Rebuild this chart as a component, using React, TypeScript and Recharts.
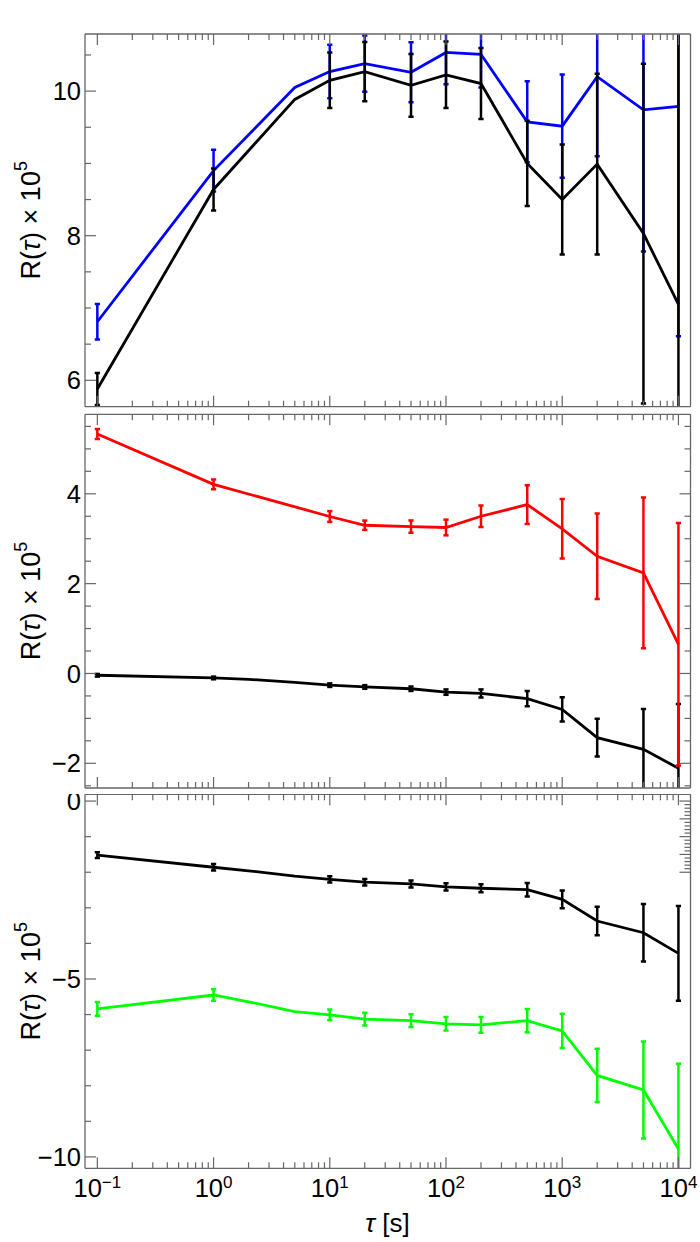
import React from "react";
import { LineChart, Line, XAxis, YAxis, ErrorBar } from "recharts";

// lag times (s) shared by all series
const TAU = [0.1, 1, 2, 5, 10, 20, 50, 100, 200, 500, 1000, 2000, 5000, 10000];

// top panel
const BLUE_TOP = [6.81, 8.9, null, 10.05, 10.27, 10.38, 10.26, 10.535, 10.51, 9.575, 9.515, 10.2, 9.74, 9.79];
const BLUE_TOP_ERR = [0.245, 0.29, null, null, 0.37, 0.39, 0.415, 0.44, 0.46, 0.56, 0.715, 1.1, 1.96, 3.18];
const BLACK_TOP = [5.88, 8.64, null, 9.885, 10.15, 10.27, 10.08, 10.225, 10.105, 9.0, 8.5, 8.99, 8.03, 7.05];
const BLACK_TOP_ERR = [0.22, 0.29, null, null, 0.385, 0.41, 0.435, 0.46, 0.49, 0.59, 0.76, 1.25, 2.35, 4.0];

// middle panel
const RED_MID = [5.33, 4.21, null, null, 3.495, 3.3, 3.27, 3.25, 3.5, 3.76, 3.22, 2.61, 2.24, 0.65];
const RED_MID_ERR = [0.11, 0.11, null, null, 0.12, 0.104, 0.137, 0.175, 0.24, 0.433, 0.663, 0.95, 1.68, 2.7];
const BLACK_MID = [-0.04, -0.1, -0.13, -0.2, -0.26, -0.3, -0.34, -0.415, -0.445, -0.56, -0.8, -1.43, -1.69, -2.11];
const BLACK_MID_ERR = [0.03, 0.03, null, null, 0.04, 0.04, 0.05, 0.06, 0.09, 0.17, 0.27, 0.42, 0.9, 1.43];

// bottom panel
const BLACK_BOT = [-1.52, -1.86, -1.96, -2.11, -2.2, -2.28, -2.33, -2.41, -2.45, -2.49, -2.76, -3.37, -3.7, -4.28];
const BLACK_BOT_ERR = [0.08, 0.09, null, null, 0.09, 0.09, 0.1, 0.1, 0.11, 0.19, 0.25, 0.4, 0.81, 1.33];
const GREEN_BOT = [-5.84, -5.45, -5.64, -5.92, -6.01, -6.13, -6.17, -6.26, -6.29, -6.17, -6.46, -7.71, -8.12, -9.78];
const GREEN_BOT_ERR = [0.19, 0.16, null, null, 0.15, 0.18, 0.18, 0.19, 0.22, 0.33, 0.48, 0.75, 1.36, 2.4];

// ticks
const X_MAJOR = [0.1, 1, 10, 100, 1000, 10000];
const X_EXP = ["\u22121", "0", "1", "2", "3", "4"];
const X_MINOR_MULT = [2, 3, 4, 5, 6, 7, 8, 9];
const X_DOMAIN: [number, number] = [0.0783, 12700];

const Y1_TICKS = [6, 6.5, 7, 7.5, 8, 8.5, 9, 9.5, 10, 10.5];
const Y1_LABELS = [6, 8, 10];
const Y2_TICKS = [-2.5, -2, -1.5, -1, -0.5, 0, 0.5, 1, 1.5, 2, 2.5, 3, 3.5, 4, 4.5, 5, 5.5];
const Y2_LABELS = [-2, 0, 2, 4];
const Y3_TICKS = [-10, -9, -8, -7, -6, -5, -4, -3, -2, -1, 0];
const Y3_LABELS = [-10, -5, 0];
const Y3_RIGHT_TICKS = [0, -0.1, -0.2, -0.3, -0.4, -0.5, -0.6, -0.7, -0.8, -0.9, -1, -1.1, -1.2, -1.3, -1.4, -1.5, -1.6, -1.7, -1.8, -1.9, -2];
const Y3_RIGHT_MAJOR = [0, -0.5, -1, -1.5, -2];

const FRAME = "#666";
const FONT = "'Liberation Sans', Arial, sans-serif";
const PLOT_LEFT = 85;
const PLOT_RIGHT = 690.5;

const X_TICKS = [
  ...X_MAJOR,
  ...X_MAJOR.slice(0, -1).flatMap((d) => X_MINOR_MULT.map((m) => +(m * d).toPrecision(3))),
];

const points = (vals: (number | null)[], errs: (number | null)[]) =>
  TAU.map((t, i) => ({ t, v: vals[i], e: errs[i] ?? undefined })).filter((p) => p.v != null);

const fmt = (v: number) => (v < 0 ? "\u2212" + Math.abs(v) : String(v));

const xTick = (side: "top" | "bottom", labels: boolean) => (p: any) => {
  const v = p.payload.value;
  const i = X_MAJOR.indexOf(v);
  const len = i >= 0 ? 11 : 6;
  const dir = side === "bottom" ? -1 : 1;
  return (
    <g>
      <line x1={p.x} x2={p.x} y1={p.y} y2={p.y + dir * len} stroke={FRAME} strokeWidth={1.2} />
      {labels && i >= 0 && (
        <text x={p.x} y={p.y + 29} textAnchor="middle" fontSize={25.5} fontFamily={FONT} fill="#000">
          10
          <tspan dy={-9} fontSize={17}>
            {X_EXP[i]}
          </tspan>
        </text>
      )}
    </g>
  );
};

const yTickLeft = (labels: number[]) => (p: any) => {
  const v = p.payload.value;
  const major = labels.includes(v);
  return (
    <g>
      <line x1={p.x} x2={p.x + (major ? 11 : 6)} y1={p.y} y2={p.y} stroke={FRAME} strokeWidth={1.2} />
      {major && (
        <text x={p.x - 4} y={p.y} dy="0.36em" textAnchor="end" fontSize={25.5} fontFamily={FONT} fill="#000">
          {fmt(v)}
        </text>
      )}
    </g>
  );
};

const yTickRight = (major: number[]) => (p: any) => {
  const len = major.includes(p.payload.value) ? 11 : 6;
  return <line x1={p.x} x2={p.x - len} y1={p.y} y2={p.y} stroke={FRAME} strokeWidth={1.2} />;
};

type Series = { color: string; data: { t: number; v: number | null; e?: number }[] };

function Panel(props: {
  id: string;
  top: number;
  height: number;
  frameTop: number;
  frameBottom: number;
  yDomain: [number, number];
  yTicks: number[];
  yLabels: number[];
  rightTicks?: number[];
  rightMajor?: number[];
  series: Series[];
  xLabels?: boolean;
  z?: number;
}) {
  const axisLine = { stroke: FRAME, strokeWidth: 1.3 };
  const ft = props.frameTop - props.top;
  const fb = props.frameBottom - props.top;
  const clipId = `clip-${props.id}`;
  return (
    <div
      className={`panel-${props.id}`}
      style={{
        position: "absolute",
        left: 0,
        top: props.top,
        width: 700,
        height: props.height,
        background: props.z ? "#fff" : "transparent",
        zIndex: props.z ?? 0,
      }}
    >
      <svg width={0} height={0} style={{ position: "absolute" }}>
        <defs>
          <clipPath id={clipId}>
            <rect x={PLOT_LEFT} y={ft} width={PLOT_RIGHT - PLOT_LEFT} height={fb - ft} />
          </clipPath>
        </defs>
      </svg>
      <style>{`.panel-${props.id} .recharts-errorBars, .panel-${props.id} .recharts-errorBar { clip-path: url(#${clipId}); }`}</style>
      <LineChart
        width={700}
        height={props.height}
        margin={{ top: ft - 1, right: 700 - PLOT_RIGHT - 1, bottom: props.height - fb - 1, left: 0 }}
      >
        <XAxis
          xAxisId="b"
          orientation="bottom"
          type="number"
          dataKey="t"
          scale="log"
          domain={X_DOMAIN}
          allowDataOverflow
          ticks={X_TICKS}
          interval={0}
          height={1}
          tickSize={0}
          tickMargin={0}
          tickLine={false}
          axisLine={axisLine}
          tick={xTick("bottom", !!props.xLabels)}
        />
        <XAxis
          xAxisId="t"
          orientation="top"
          type="number"
          dataKey="t"
          scale="log"
          domain={X_DOMAIN}
          allowDataOverflow
          ticks={X_TICKS}
          interval={0}
          height={1}
          tickSize={0}
          tickMargin={0}
          tickLine={false}
          axisLine={axisLine}
          tick={xTick("top", false)}
        />
        <YAxis
          yAxisId="l"
          orientation="left"
          type="number"
          width={PLOT_LEFT}
          domain={props.yDomain}
          allowDataOverflow
          ticks={props.yTicks}
          interval={0}
          tickSize={0}
          tickMargin={0}
          tickLine={false}
          axisLine={axisLine}
          tick={yTickLeft(props.yLabels)}
        />
        <YAxis
          yAxisId="r"
          orientation="right"
          type="number"
          width={1}
          domain={props.yDomain}
          allowDataOverflow
          ticks={props.rightTicks ?? props.yTicks}
          interval={0}
          tickSize={0}
          tickMargin={0}
          tickLine={false}
          axisLine={axisLine}
          tick={props.rightTicks ? yTickRight(props.rightMajor ?? []) : false}
        />
        {props.series.map((s, i) => (
          <Line
            key={i}
            xAxisId="b"
            yAxisId="l"
            data={s.data}
            dataKey="v"
            type="linear"
            stroke={s.color}
            strokeWidth={2.8}
            dot={false}
            activeDot={false}
            isAnimationActive={false}
          >
            <ErrorBar
              dataKey="e"
              direction="y"
              width={2.6}
              strokeWidth={2.5}
              stroke={s.color}
              clipPath={`url(#${clipId})`}
            />
          </Line>
        ))}
      </LineChart>
    </div>
  );
}

function YTitle({ cy }: { cy: number }) {
  return (
    <text
      transform={`translate(31,${cy}) rotate(-90)`}
      textAnchor="middle"
      dominantBaseline="central"
      fontSize={27}
      fontFamily={FONT}
      fill="#000"
    >
      R(<tspan fontStyle="italic">τ</tspan>) × 10
      <tspan dy={-10} fontSize={18}>
        5
      </tspan>
    </text>
  );
}

export default function App() {
  return (
    <div style={{ position: "absolute", left: 0, top: 0, width: 700, height: 1242, background: "#fff" }}>
      <Panel
        id="a"
        top={0}
        height={410}
        frameTop={34}
        frameBottom={406.7}
        yDomain={[5.635, 10.79]}
        yTicks={Y1_TICKS}
        yLabels={Y1_LABELS}
        series={[
          { color: "#0000ff", data: points(BLUE_TOP, BLUE_TOP_ERR) },
          { color: "#000000", data: points(BLACK_TOP, BLACK_TOP_ERR) },
        ]}
      />
      <Panel
        id="c"
        top={790}
        height={452}
        frameTop={794.3}
        frameBottom={1168.3}
        yDomain={[-10.32, 0.19]}
        yTicks={Y3_TICKS}
        yLabels={Y3_LABELS}
        rightTicks={Y3_RIGHT_TICKS}
        rightMajor={Y3_RIGHT_MAJOR}
        series={[
          { color: "#000000", data: points(BLACK_BOT, BLACK_BOT_ERR) },
          { color: "#00ff00", data: points(GREEN_BOT, GREEN_BOT_ERR) },
        ]}
        xLabels
      />
      <Panel
        id="b"
        top={408}
        height={385.5}
        frameTop={414.3}
        frameBottom={788}
        yDomain={[-2.55, 5.77]}
        yTicks={Y2_TICKS}
        yLabels={Y2_LABELS}
        rightTicks={Y2_TICKS}
        rightMajor={Y2_LABELS}
        series={[
          { color: "#000000", data: points(BLACK_MID, BLACK_MID_ERR) },
          { color: "#ff0000", data: points(RED_MID, RED_MID_ERR) },
        ]}
        z={1}
      />
      <svg
        width={700}
        height={1242}
        style={{ position: "absolute", left: 0, top: 0, zIndex: 2, pointerEvents: "none" }}
      >
        <YTitle cy={220.3} />
        <YTitle cy={601} />
        <YTitle cy={981.3} />
        <text x={387.5} y={1232} textAnchor="middle" fontSize={26} fontFamily={FONT} fill="#000">
          <tspan fontStyle="italic">τ</tspan> [s]
        </text>
      </svg>
    </div>
  );
}
